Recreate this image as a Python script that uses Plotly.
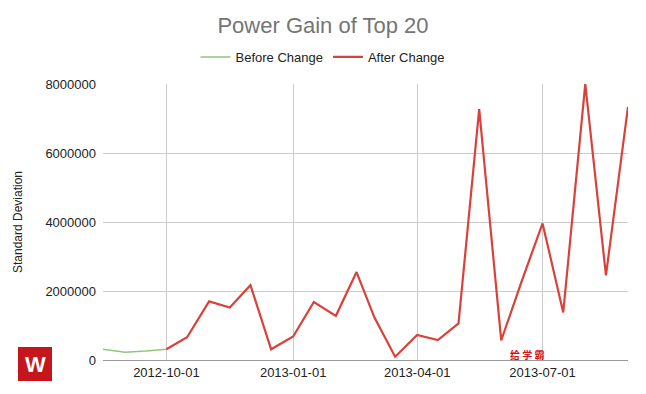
import plotly.graph_objects as go

before_dates = ["2012-08-16", "2012-09-01", "2012-09-16", "2012-10-01"]
before_vals = [310000, 225000, 260000, 310000]

after_dates = ["2012-10-01", "2012-10-16", "2012-11-01", "2012-11-16", "2012-12-01",
               "2012-12-16", "2013-01-01", "2013-01-16", "2013-02-01", "2013-02-16",
               "2013-03-01", "2013-03-16", "2013-04-01", "2013-04-16", "2013-05-01",
               "2013-05-16", "2013-06-01", "2013-06-16", "2013-07-01", "2013-07-16",
               "2013-08-01", "2013-08-16", "2013-09-01"]
after_vals = [310000, 660000, 1700000, 1520000, 2170000,
              310000, 680000, 1680000, 1280000, 2550000,
              1230000, 96000, 725000, 580000, 1060000,
              7270000, 570000, 2300000, 3960000, 1380000,
              8000000, 2450000, 7340000]

font = "Liberation Sans, Arial, sans-serif"

fig = go.Figure()
fig.add_trace(go.Scatter(x=before_dates, y=before_vals, mode="lines", name="Before Change",
                         line=dict(color="#93c47d", width=1.5)))
fig.add_trace(go.Scatter(x=after_dates, y=after_vals, mode="lines", name="After Change",
                         line=dict(color="#d9423a", width=2.2)))

L, R, T, B = 103, 18, 84, 34
W, H = 646, 394
pw, ph = W - L - R, H - T - B

def px(x):
    return (x - L) / pw

def py(y):
    return (H - B - y) / ph

fig.update_layout(
    width=W, height=H,
    margin=dict(l=L, r=R, t=T, b=B, autoexpand=False),
    paper_bgcolor="white", plot_bgcolor="white",
    font=dict(family=font, size=13, color="#222222"),
    title=dict(text="Power Gain of Top 20", x=0.5, xref="container", xanchor="center",
               y=1 - 25 / H, yanchor="middle",
               font=dict(family=font, size=22, color="#757575")),
    legend=dict(orientation="h", x=px(323), xref="paper", xanchor="center",
                y=py(57), yref="paper", yanchor="middle",
                font=dict(size=13, color="#222222"),
                itemwidth=30, bgcolor="rgba(0,0,0,0)"),
    showlegend=True,
    xaxis=dict(type="date", range=["2012-08-16", "2013-09-01"],
               tick0="2012-10-01", dtick="M3", tickformat="%Y-%m-%d",
               showgrid=True, gridcolor="#cccccc", gridwidth=1,
               showline=True, linecolor="#999999", linewidth=1,
               ticks="", tickfont=dict(size=13, color="#222222"), zeroline=False),
    yaxis=dict(range=[0, 8000000], tickvals=[0, 2000000, 4000000, 6000000, 8000000],
               ticktext=["0", "2000000", "4000000", "6000000", "8000000"],
               showgrid=True, gridcolor="#cccccc", gridwidth=1,
               zeroline=False, showline=False, ticks="", ticklabelstandoff=6,
               tickfont=dict(size=13, color="#222222"),
               title=dict(text="Standard Deviation", font=dict(size=12, color="#222222"),
                          standoff=20)),
)

# watermark logo
fig.add_shape(type="rect", xref="paper", yref="paper",
              x0=px(18), x1=px(52), y0=py(381), y1=py(347),
              fillcolor="#c4161c", line=dict(width=0), layer="above")
fig.add_annotation(text="<b>W</b>", xref="paper", yref="paper", x=px(35), y=py(364),
                   xanchor="center", yanchor="middle",
                   showarrow=False, font=dict(family=font, size=22, color="white"))
fig.add_annotation(text="<b>给 学 霸</b>", xref="paper", yref="paper", x=px(527), y=py(354),
                   xanchor="center", yanchor="middle",
                   showarrow=False, font=dict(family="Noto Sans CJK SC", size=10, color="#d0101a"))

fig.write_html("out.html")
